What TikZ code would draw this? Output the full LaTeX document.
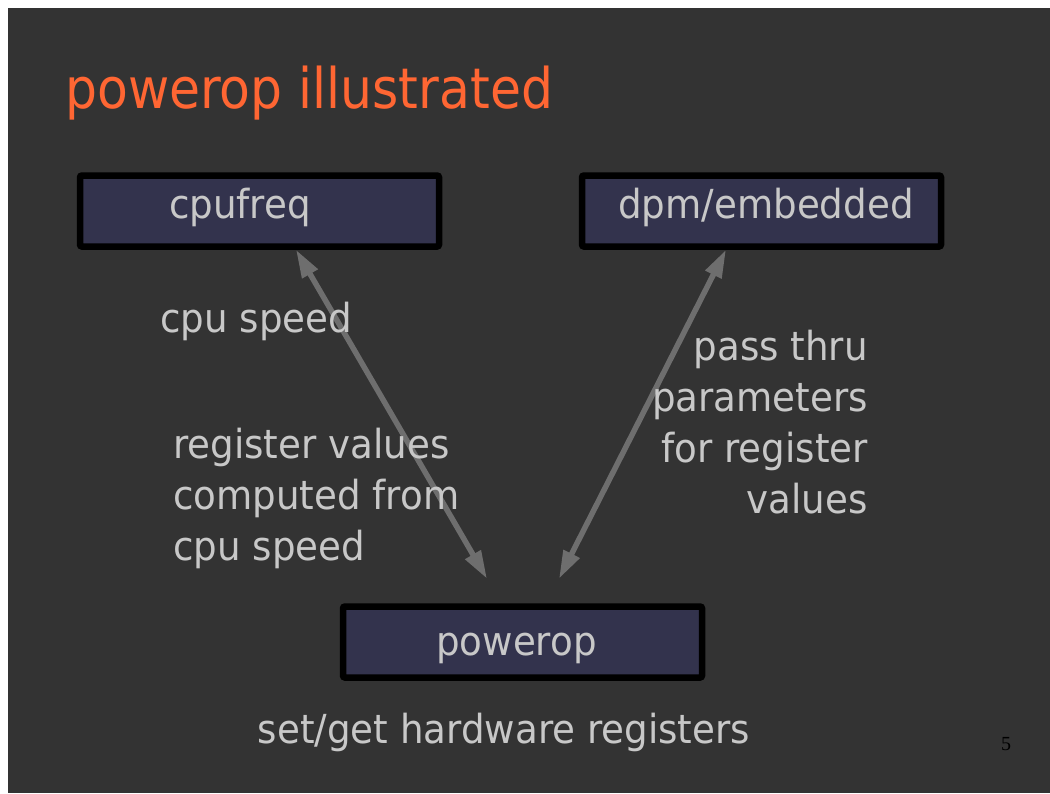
\documentclass[tikz,border=0pt]{standalone}
\usepackage{fontspec}
\setmainfont[FakeStretch=0.93]{DejaVu Sans}
\newfontfamily\titlefont[FakeStretch=0.9]{DejaVu Sans}
\newfontfamily\pagenumfont{Liberation Serif}
\usetikzlibrary{positioning, arrows.meta}

\definecolor{slidebg}{HTML}{333333}
\definecolor{boxfill}{HTML}{33334D}
\definecolor{titleorange}{HTML}{FF6633}
\definecolor{textgray}{HTML}{C8C8C8}
\definecolor{arrowgray}{HTML}{6E6E6E}

\begin{document}
\begin{tikzpicture}[
    x=1pt, y=-1pt,
    % Styles
    module/.style={draw=black, fill=boxfill, line width=6.5pt, rounded corners=2pt, minimum width=359pt, minimum height=71pt, inner sep=0pt},
    modtext/.style={text=textgray, font=\fontsize{40}{48}\selectfont, text height=30pt, text depth=9pt, inner sep=0pt},
    caption/.style={text=textgray, font=\fontsize{40}{51}\selectfont, inner sep=0pt},
    link/.style={{Triangle[length=28pt,width=17pt]}-{Triangle[length=28pt,width=17pt]}, line width=5.5pt, draw=arrowgray},
]

% Slide background
\useasboundingbox (0,0) rectangle (1050,793);
\fill[white] (0,0) rectangle (1050,793);
\fill[slidebg] (8,8) rectangle (1050,793);

% Title
\node[anchor=base west, inner sep=0pt, text=titleorange, font=\titlefont\fontsize{56}{64}\selectfont] (title) at (65,108) {powerop illustrated};

% Modules
\node[module, label={[modtext, xshift=-19.5pt, yshift=3.5pt]center:cpufreq}] (cpufreq) at (259.5,211) {};
\node[module, label={[modtext, xshift=4.5pt, yshift=3.5pt]center:dpm/embedded}] (dpm) at (761.5,211) {};
\node[module, label={[modtext, xshift=-6pt, yshift=-2.5pt]center:powerop}] (powerop) at (522.5,642) {};

% Arrow ends
\coordinate (cpuend) at ([xshift=36.5pt]cpufreq.south);
\coordinate (dpmend) at ([xshift=-35.5pt]dpm.south);
\coordinate (popleft) at ([xshift=-35.5pt, yshift=24.5pt]powerop.north);
\coordinate (popright) at ([xshift=36.5pt, yshift=24.5pt]powerop.north);

\draw[link] (cpuend) -- (popleft);
\draw[link] (dpmend) -- (popright);

% Captions (base anchor sits on the last line)
\node[caption, anchor=base west] (speed) at (160,332) {cpu speed};
\node[caption, anchor=base west, align=left] (regvalues) at (173,560) {register values\\computed from\\cpu speed};
\node[caption, anchor=base east, align=right] (passthru) at (868,513) {pass thru\\parameters\\for register\\values};
\node[caption, anchor=base] (setget) at (504,743) {set/get hardware registers};

% Page number
\node[text=black, font=\pagenumfont\fontsize{20}{20}\selectfont, anchor=base, inner sep=0pt] (pagenum) at (1006,750) {5};

\end{tikzpicture}
\end{document}
